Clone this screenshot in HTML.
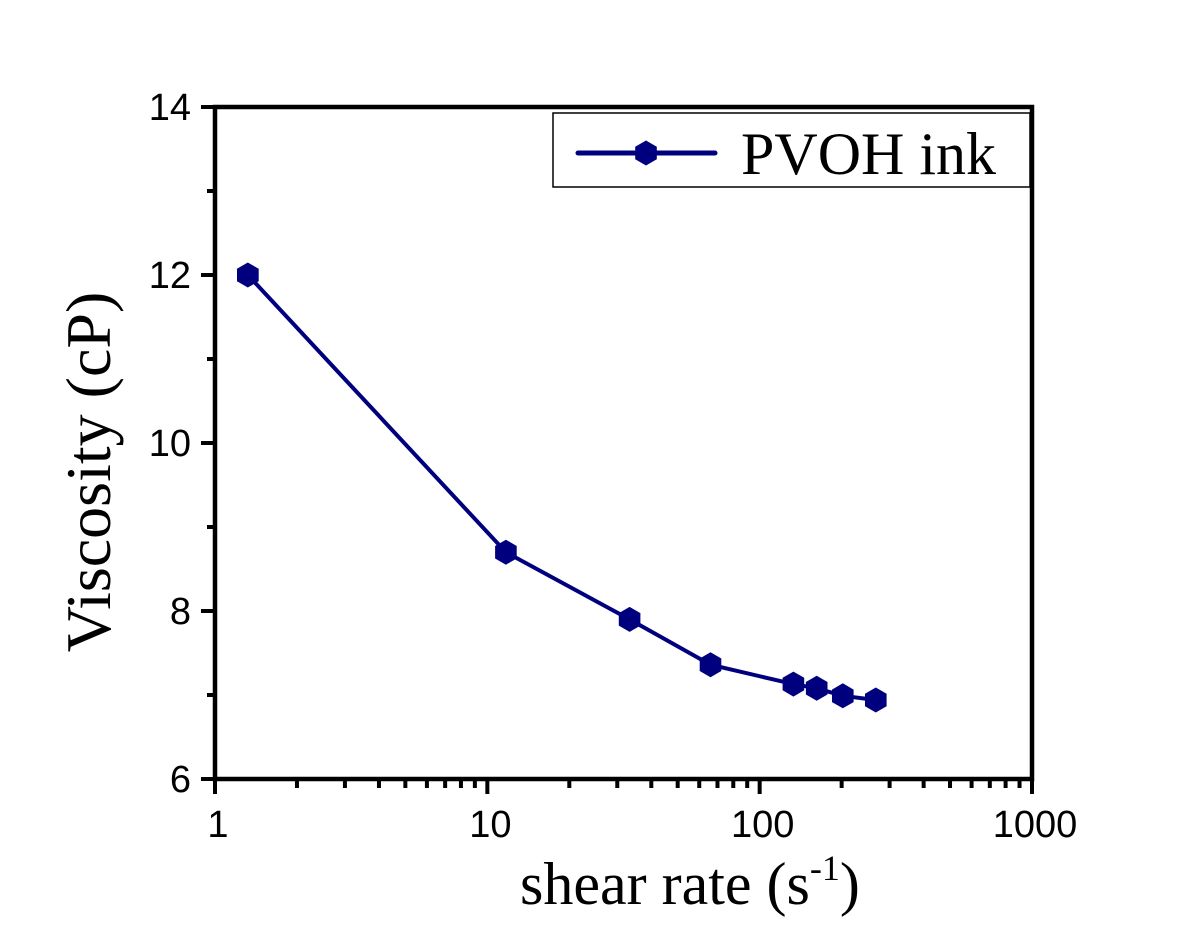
<!DOCTYPE html>
<html><head><meta charset="utf-8"><style>
body{margin:0;background:#fff;}
svg{display:block;}
</style></head><body>
<svg id="chart" width="1200" height="935" xmlns="http://www.w3.org/2000/svg">
<g id="plot"></g>
</svg>
<script>
const shearRates=[1.32,11.7,33.3,66,133,162,202,267];
const viscosity=[12.0,8.70,7.90,7.36,7.13,7.08,6.99,6.94];
const yTicks=[6,8,10,12,14];
const xTicks=[1,10,100,1000];
const xTickLabels=["1","10","100","1000"];
const L=215,R=1032,T=107,B=779;
const X=v=>L+(Math.log10(v)-0)*(R-L)/3;
const Y=v=>B-(v-6)*(B-T)/8;
const NS="http://www.w3.org/2000/svg";
const g=document.getElementById('plot');
function mk(tag,attrs,parent){const e=document.createElementNS(NS,tag);for(const k in attrs)e.setAttribute(k,attrs[k]);(parent||g).appendChild(e);return e;}
const frame=mk('rect',{x:L,y:T,width:R-L,height:B-T,fill:'none',stroke:'#000','stroke-width':4.5});


for(let v=6;v<=14;v++){const major=v%2===0;const t=mk('line',{x1:L,x2:L-(major?14:8),y1:Y(v),y2:Y(v),stroke:'#000','stroke-width':4});

}
yTicks.forEach(v=>{const t=mk('text',{x:L-24,y:Y(v)+13,'text-anchor':'end','font-family':'Liberation Sans, sans-serif','font-size':38});t.textContent=v;

});
for(let d=0;d<3;d++){for(let m=1;m<10;m++){const v=Math.pow(10,d)*m;const major=m===1;const t=mk('line',{x1:X(v),x2:X(v),y1:B,y2:B+(major?15:9),stroke:'#000','stroke-width':4});

}}
{const t=mk('line',{x1:X(1000),x2:X(1000),y1:B,y2:B+15,stroke:'#000','stroke-width':4});

}
xTicks.forEach((v,i)=>{const t=mk('text',{x:X(v)+3,y:B+58,'text-anchor':'middle','font-family':'Liberation Sans, sans-serif','font-size':38});t.textContent=xTickLabels[i];

});
const pts=shearRates.map((s,i)=>X(s)+','+Y(viscosity[i])).join(' ');
const line=mk('polyline',{points:pts,fill:'none',stroke:'#00007f','stroke-width':4});


function hex(cx,cy,r){let p=[];for(let k=0;k<6;k++){const a=Math.PI/6+k*Math.PI/3;p.push((cx+r*Math.cos(a)).toFixed(1)+','+(cy+r*Math.sin(a)).toFixed(1));}return p.join(' ');}
shearRates.forEach((s,i)=>{const m=mk('polygon',{points:hex(X(s),Y(viscosity[i]),12.5),fill:'#00007f'});

});
const lg=mk('g',{});


mk('rect',{x:553,y:113,width:477,height:74,fill:'#fff',stroke:'#000','stroke-width':1.5},lg);
mk('line',{x1:578,x2:715,y1:153,y2:153,stroke:'#00007f','stroke-width':5,'stroke-linecap':'round'},lg);
mk('polygon',{points:hex(646,153,12.5),fill:'#00007f'},lg);
const lt=mk('text',{x:741,y:174,'font-family':'Liberation Serif, serif','font-size':60},lg);lt.textContent='PVOH ink';


const yt=mk('text',{x:0,y:0,transform:'translate(110,472) rotate(-90)','text-anchor':'middle','font-family':'Liberation Serif, serif','font-size':64});yt.textContent='Viscosity (cP)';


const xt=mk('text',{x:520,y:904,'font-family':'Liberation Serif, serif','font-size':60});


xt.innerHTML='shear rate (s<tspan dy="-24" font-size="36">-1</tspan><tspan dy="24">)</tspan>';
</script>
</body></html>
